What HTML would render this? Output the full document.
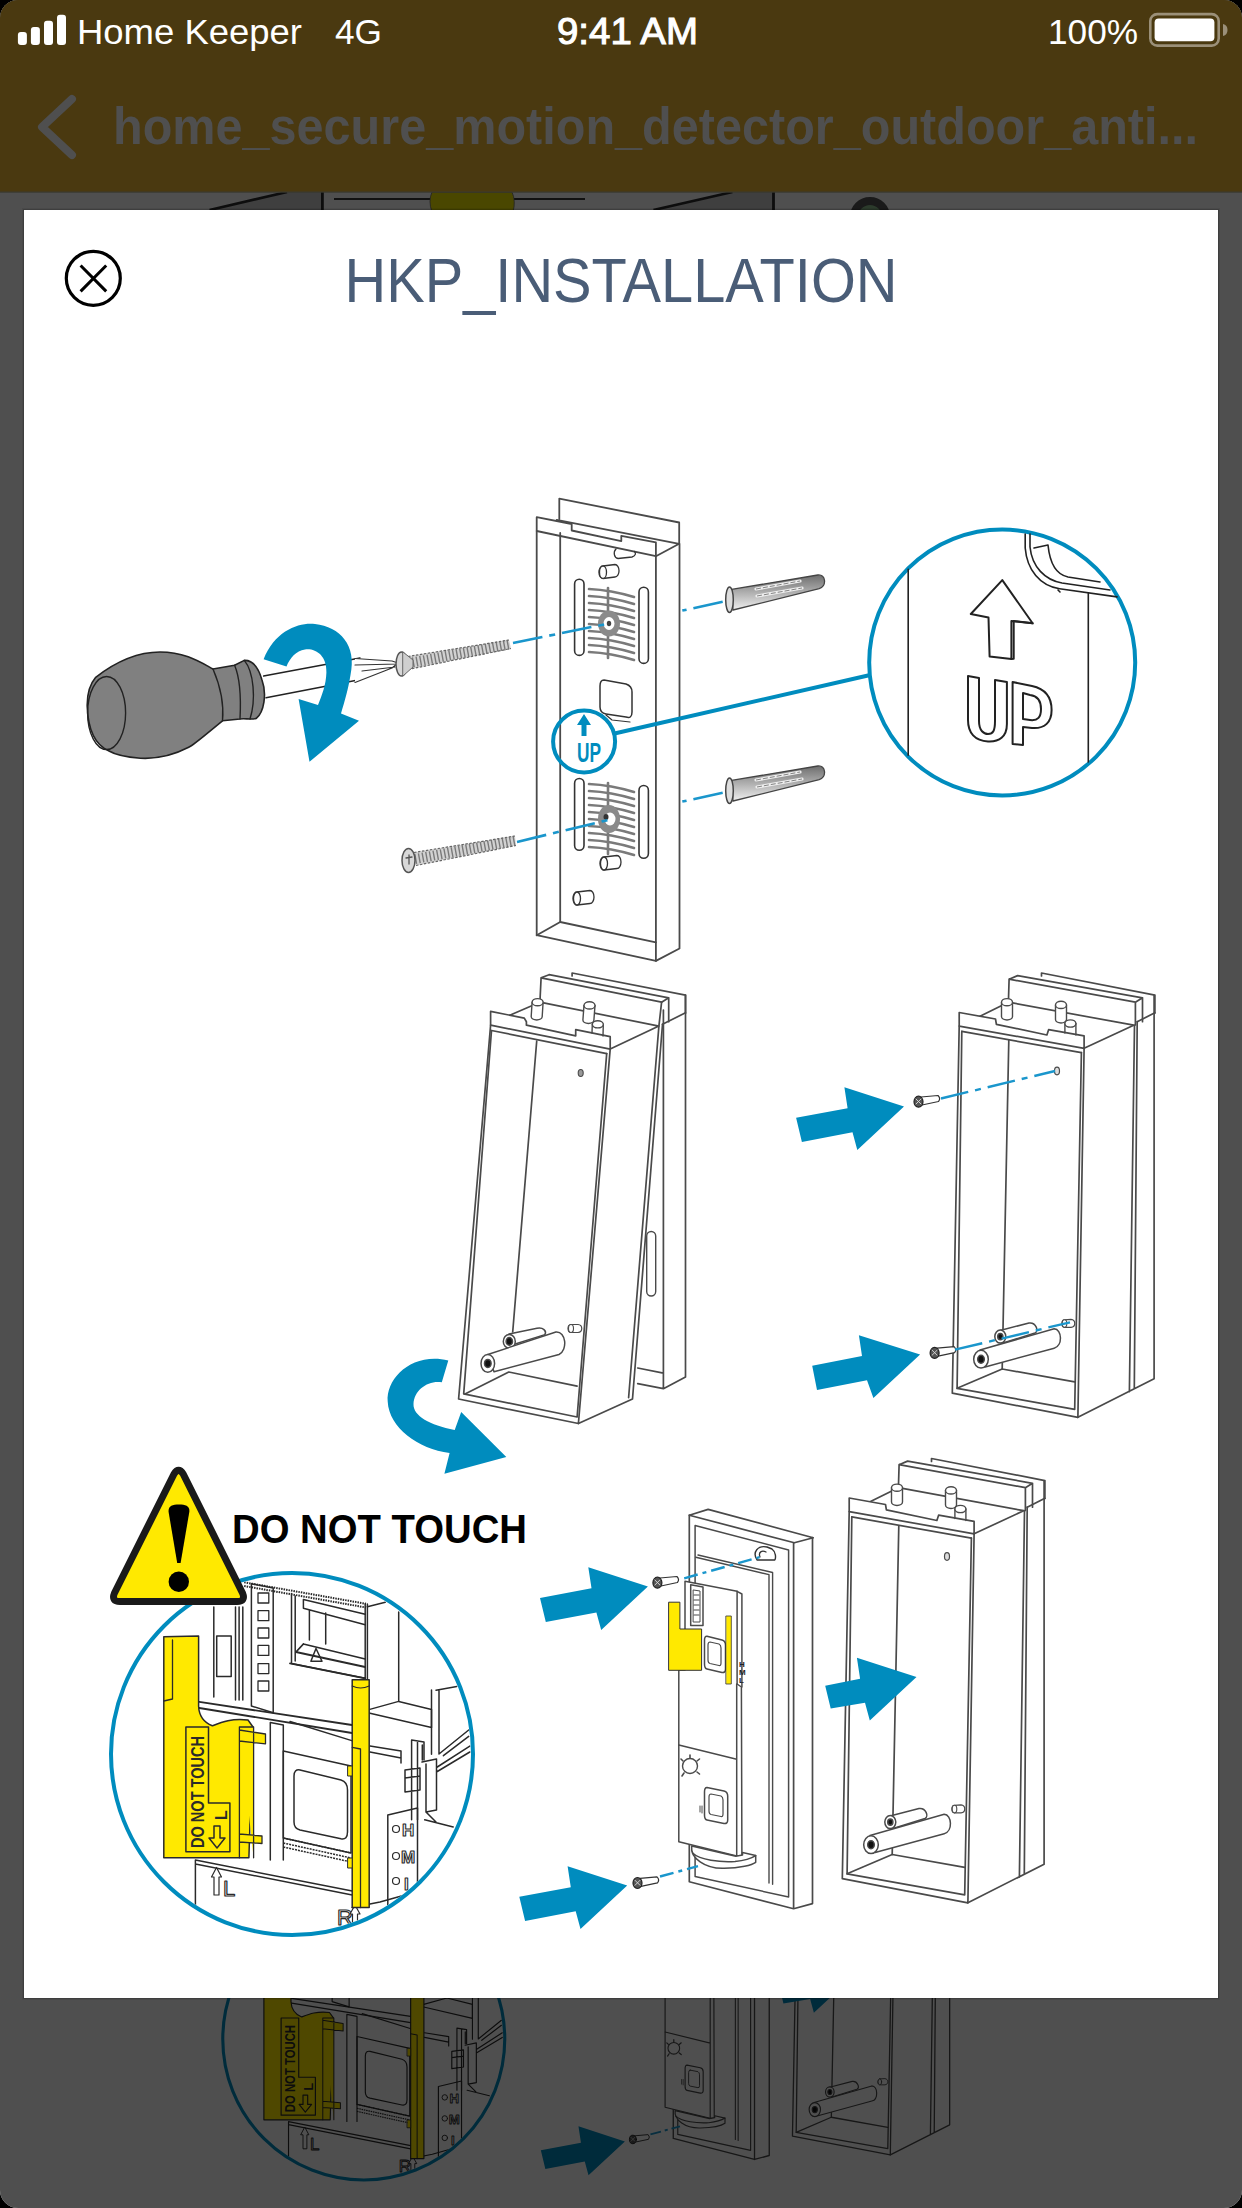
<!DOCTYPE html>
<html><head><meta charset="utf-8">
<style>
html,body{margin:0;padding:0;background:#000;width:1242px;height:2208px;overflow:hidden}
#screen{position:absolute;left:0;top:0;width:1242px;height:2208px;border-radius:18px;overflow:hidden;background:#4e4e4e}
svg{position:absolute;left:0;top:0;display:block}
text{font-family:"Liberation Sans",sans-serif}
</style></head><body>
<div id="screen">
<svg width="1242" height="2208" viewBox="0 0 1242 2208">
<defs>
<clipPath id="modalclip"><rect x="24" y="210" width="1194" height="1788"/></clipPath>
<linearGradient id="plug" x1="0" y1="0" x2="0" y2="1"><stop offset="0" stop-color="#6e6e6e"/><stop offset="1" stop-color="#f0f0f0"/></linearGradient>
<g id="diagram" fill="none" stroke="#222" stroke-width="1.6" stroke-linejoin="round" stroke-linecap="round">
<!-- p1_plate.svg -->
<!-- mount plate -->
<g stroke="#4a4a4a" stroke-width="1.8">
<path d="M559.3 519 L559.3 498.6 L679.2 522.5 L679.2 543.8"/>
<path d="M536.7 531 L536.7 517.2 L571.7 524 L571.7 530.5 L621.3 541.1 L621.3 535.8 L655.9 542.4 L655.9 556.2 L536.7 531"/>
<path d="M556.7 519.9 L679.2 543.8 L655.9 556.2"/>
<path d="M655.9 556.2 L655.9 960.9"/>
<path d="M536.7 531 L536.7 935.2 L655.9 960.9 L679.5 948.5 L679.5 543.8"/>
<path d="M560.2 533 L560.2 922 L655.9 942.3"/>
<path d="M536.7 935.2 L560.2 922"/>
</g>
<!-- pegs -->
<g stroke="#333" stroke-width="1.3" fill="#fff">
<path d="M616 549 C613 552 614 558 618 558.5 L632 557 C636 556 636 553 634.5 551.5" fill="none"/>
<path d="M603 566 L615 564.5 A4 6.2 0 0 1 615 577 L603 578.5 A4 6.2 0 0 1 603 566 Z"/><ellipse cx="603" cy="572.2" rx="3.5" ry="6.2"/>
<path d="M604 857 L617 855.5 A4 6.5 0 0 1 617 868.5 L604 870 A4 6.5 0 0 1 604 857 Z"/><ellipse cx="604" cy="863.5" rx="3.5" ry="6.5"/>
<path d="M577 892 L590 890.5 A4 6.5 0 0 1 590 903.5 L577 905 A4 6.5 0 0 1 577 892 Z"/><ellipse cx="577" cy="898.5" rx="3.5" ry="6.5"/>
</g>
<!-- slots -->
<g stroke="#333" stroke-width="1.6" fill="#fff">
<rect x="574.6" y="579.2" width="9.4" height="76.2" rx="4.7"/>
<rect x="639" y="587.2" width="9.4" height="76.2" rx="4.7"/>
<rect x="574.6" y="778.5" width="9.4" height="71.7" rx="4.7"/>
<rect x="639" y="785.5" width="9.4" height="72.7" rx="4.7"/>
</g>
<!-- grilles -->
<g stroke="#7a7a7a" stroke-width="2.6">
<path d="M589 589 Q611 590 634 597 M589 596 Q611 597 634 604 M589 603 Q611 604 634 611 M589 610 Q611 611 634 618 M589 617 Q611 618 634 625 M589 624 Q611 625 634 632 M589 631 Q611 632 634 639 M589 638 Q611 639 634 646 M589 645 Q611 646 634 653 M589 652 Q611 653 634 660"/>
<path d="M608 588 L608 658"/>
<path d="M589 784 Q611 785 634 792 M589 791 Q611 792 634 799 M589 798 Q611 799 634 806 M589 805 Q611 806 634 813 M589 812 Q611 813 634 820 M589 819 Q611 820 634 827 M589 826 Q611 827 634 834 M589 833 Q611 834 634 841 M589 840 Q611 841 634 848 M589 847 Q611 848 634 855"/>
<path d="M608 783 L608 854"/>
</g>
<g stroke="none">
<ellipse cx="609" cy="623.5" rx="11" ry="13" fill="#8a8a8a"/>
<ellipse cx="609" cy="623.5" rx="5.5" ry="6.5" fill="#fff"/>
<ellipse cx="609" cy="623.5" rx="2.2" ry="2.8" fill="#444"/>
<ellipse cx="609" cy="819" rx="11" ry="14" fill="#8a8a8a"/>
<ellipse cx="610" cy="819" rx="5.5" ry="6.5" fill="#fff"/>
<ellipse cx="606" cy="817" rx="2.5" ry="3" fill="#333"/>
</g>
<!-- square hole -->
<path d="M604 680 L626 684 Q632 686 632 692 L632 712 Q632 719 626 717 L606 714 Q600 713 600 707 L600 686 Q600 680 604 680 Z" stroke="#333" stroke-width="1.5" fill="#fff"/>
<path d="M606 715 L612 720 L630 722" stroke="#333" stroke-width="1.2"/>

<!-- p1_tools.svg -->
<!-- screwdriver -->
<path d="M263.6 676 L360 658 M266 697.8 L358 680" stroke="#222" stroke-width="1.4"/>
<path d="M355 658.5 L392 661 L398 663 L392 668 L355 682.5 M355 665 L398 664 M362 671 L395 667" stroke="#333" stroke-width="1.2" fill="#fff"/>
<path d="M95.7 677.3 C118 660 140 652 160 652 C185 652 200 662 213 669 L234.6 665.2 L244.3 660.4 C252 660 258 666 262 680 C267 694 264 712 256.3 718.4 C250 720 245 718 240 719 L222.5 720.8 C205 735 195 744 188.7 747.3 C170 757 155 759 140.4 758.2 C125 757 114 754 109 751 C95 745 88 730 87.2 706.3 C87 695 90 684 95.7 677.3 Z" fill="#808080" stroke="#222" stroke-width="1.6"/>
<ellipse cx="106.6" cy="713" rx="19" ry="36.5" fill="none" stroke="#222" stroke-width="1.4"/>
<path d="M213 669 C222 690 224 705 222.5 720.8 M244.3 660.4 C254 672 256 700 250 719 M234.6 665.2 C240 678 241 700 240 719" stroke="#222" stroke-width="1.4"/>
<!-- blue curved arrow -->
<path d="M263.6 659.2 C275 630 300 622 315 624 C340 627 357 645 350.5 675 C348 690 345 700 341 713.5 L359 720.8 L309.5 761.8 L298.6 699 L318 705 C322 695 326 685 326.4 672.5 C327 655 315 648 305 649.5 C296 651 290 658 286.5 666.4 Z" fill="#008cbe" stroke="none"/>
<!-- screws -->
<g stroke="none">
<path d="M407 656.5 L509 640 L511 648.5 L408 669.5 Z" fill="#d2d2d2"/>
<path d="M409 663 L510 644.3" stroke="#7a7a7a" stroke-width="10" stroke-dasharray="1.4 2.3" stroke-linecap="butt" fill="none"/>
<path d="M408 656.5 L509 640 M408 669.5 L511 648.5" stroke="#666" stroke-width="1.2" stroke-dasharray="2.5 1.5" stroke-linecap="butt" fill="none"/>
<ellipse cx="401.5" cy="664" rx="5.5" ry="12" fill="#d8d8d8" stroke="#555" stroke-width="1.5"/>
<path d="M403 652 L413 660 L413 667 L403 676 Z" fill="#cfcfcf" stroke="#666" stroke-width="1"/>
<path d="M414 852.5 L515 836 L516 845.5 L416 865.5 Z" fill="#d2d2d2"/>
<path d="M415 859 L515.5 840.5" stroke="#7a7a7a" stroke-width="10" stroke-dasharray="1.4 2.3" stroke-linecap="butt" fill="none"/>
<path d="M414 852.5 L515 836 M416 865.5 L516 845.5" stroke="#666" stroke-width="1.2" stroke-dasharray="2.5 1.5" stroke-linecap="butt" fill="none"/>
<ellipse cx="408.5" cy="860.4" rx="6.5" ry="12" fill="#d8d8d8" stroke="#555" stroke-width="1.5"/>
<path d="M406 858 L412 857 M409 855 L409 864" stroke="#555" stroke-width="1.3"/>
</g>
<!-- anchors -->
<g id="anchor">
<path d="M731.6 589.4 L817.8 575 C826 574 827 586 819.2 588.7 L733 610 Z" fill="url(#plug)" stroke="#444" stroke-width="1.3"/>
<ellipse cx="729.5" cy="599.7" rx="3.8" ry="12.8" fill="#ddd" stroke="#444" stroke-width="1.5"/>
<path d="M756 589 L800 581 M757 596 L802 588" stroke="#eee" stroke-width="3.2" stroke-linecap="round"/>
<path d="M756 589 L800 581 M757 596 L802 588" stroke="#666" stroke-width="0.8" stroke-dasharray="5 2" stroke-linecap="butt"/>
</g>
<use href="#anchor" transform="translate(0,191)"/>
<!-- blue dash-dot lines -->
<g stroke="#1a96cc" stroke-width="2.6" stroke-dasharray="30 7 6 7" stroke-linecap="butt">
<path d="M513 643 L609 623.5"/>
<path d="M517 841.9 L608 820"/>
<path d="M722.7 601.7 L682.3 610.6"/>
<path d="M722.7 792.7 L682.3 801.6"/>
</g>
<!-- small up circle -->
<circle cx="584.1" cy="741.5" r="31" fill="none" stroke="#008cbe" stroke-width="4"/>
<path d="M614.5 733.5 L868 675.5" stroke="#008cbe" stroke-width="4"/>
<path d="M584 714 L591 725 L586.5 725 L586.5 736 L581.5 736 L581.5 725 L577 725 Z" fill="#008cbe" stroke="none"/>
<text x="577" y="762" font-size="27" font-weight="bold" fill="#008cbe" stroke="none" textLength="24" lengthAdjust="spacingAndGlyphs">UP</text>
<!-- big up circle -->
<circle cx="1002.2" cy="662.5" r="133" fill="#fff" stroke="#008cbe" stroke-width="4"/>
<g stroke="#222" stroke-width="1.6">
<path d="M908.2 569.3 L908.2 755.2 M1088.3 593.4 L1088.3 762"/>
<path d="M1025.2 534 L1025.2 548 C1027 570 1040 586 1059.6 588.8 L1117 596.9 M1030 534 L1030 547 C1032 567 1045 580 1062 583 L1110 590 M1034 548 L1048 545 C1050 565 1058 575 1068 577 L1100 582 M1058 590 L1060 592"/>
<path d="M1002.3 580.1 L970.8 614 L988.5 617.5 L989.6 656.5 L1011.4 659 L1011.4 621 L1032.6 623.3 Z" fill="#fff" stroke-width="2"/>
<path d="M1011.4 659 L1013.7 658.8 L1013.7 621 L1032.6 623.3" stroke-width="2"/>
</g>
<g stroke="#222" stroke-width="2" fill="#fff">
<path d="M968 676 L979 678 L979 721 C979 731 984 734 988 734 C993 734 995 731 995 721 L995 680 L1006.9 682 L1006.9 724 C1006.9 737 999 742 988 741.4 C975 741 968 733 968 720 Z"/>
<path d="M1012.6 682 L1032 686 C1046 689 1051.6 697 1051.6 710 C1051.6 722 1045 729 1032 728 L1023 727 L1023 745 L1012.6 744 Z M1023 693 L1023 719 L1030 720 C1038 721 1041 717 1041 709 C1041 701 1038 696 1030 695 Z"/>
</g>

<!-- p2_housings.svg -->
<!-- housing top (shared) -->
<g id="htop" stroke="#4a4a4a" stroke-width="1.7">
<path d="M572.1 976 L572.1 973 L685.5 995.1 L685.5 1013"/>
<path d="M549.1 974.7 L668.7 997.8 L668.7 1021.7 M541.1 977.8 L549.1 974.7 M541.1 977.8 L661.6 1002.2 L668.7 997.8 M541.1 977.8 L539.9 1002.2"/>
<path d="M509.2 1015.5 L539.9 1002.2 L658.9 1026.1 L610.2 1049.1 M685.5 1012.8 L662.5 1024.3"/>
<path d="M490.6 1025.2 L490.6 1011.4 L524.3 1018.1 L526.4 1021.7 L526.4 1025.2 L575.7 1035.9 L575.7 1029.7 L610.2 1036.7 L610.2 1049.1 Z" fill="#fff"/>
<path d="M491.5 1030.5 L606.7 1053.6"/>
<g fill="#fff" stroke-width="1.4">
<path d="M532.1 1002.2 L531.2 1016.5 A5.5 3.5 0 0 0 542.2 1016.5 L543.1 1002.2"/><ellipse cx="537.6" cy="1002.2" rx="5.5" ry="3.6"/>
<path d="M584 1005.4 L582.9 1020 A5.5 3.5 0 0 0 593.9 1020 L595 1005.4"/><ellipse cx="589.5" cy="1005.4" rx="5.5" ry="3.6"/>
<path d="M592.3 1024.3 L592 1033 M603.3 1024.3 L603 1036"/><ellipse cx="597.8" cy="1024.3" rx="5.5" ry="3.6"/>
</g>
</g>
<!-- middle-left tilted housing body -->
<g stroke="#4a4a4a" stroke-width="1.7">
<path d="M490.6 1025.2 L458.6 1399 L578.4 1423.5 L610.2 1049.1"/>
<path d="M491.5 1030.5 L463.7 1393.9 L577.1 1417 L606.7 1053.6"/>
<path d="M465 1394 L508.8 1372 L577.1 1386.1"/>
<path d="M578.4 1423.5 L632.5 1399 L662.5 1024.3 M628.6 1397.7 L658.9 1026.1 M661.6 1002.2 L658.9 1026.1"/>
<path d="M685.5 995.1 L685.5 1377 L663.4 1388.7 L637.7 1383.6 M663.4 1010 L663.4 1388.7 M637.7 1368 L663.4 1373.2"/>
<path d="M536.7 1041.2 L512.7 1332"/>
<rect x="646.7" y="1231.5" width="9" height="64.5" rx="4.5" stroke-width="1.4"/>
</g>
<g stroke="#4a4a4a" stroke-width="1.5" fill="#fff">
<path d="M509 1334 L537 1328.3 C543 1327 547 1331 544.9 1334.6 L512 1345 Z"/><ellipse cx="509.3" cy="1341.4" rx="6" ry="7"/><ellipse cx="509.3" cy="1341.4" rx="3.2" ry="3.8" fill="#111"/>
<path d="M487.8 1354.5 L555.9 1332 C566 1331 568 1350 559 1354.5 L494 1371.8 Z"/><ellipse cx="487.8" cy="1363.4" rx="6.8" ry="8.9"/><ellipse cx="487.8" cy="1363.4" rx="3.3" ry="4" fill="#111"/>
<path d="M571 1324.5 L578 1324.5 C583 1325 583 1332 578 1332.5 L571 1332.5 C567 1332 567 1325 571 1324.5 Z" stroke-width="1.2"/><ellipse cx="571" cy="1328.5" rx="2.5" ry="4" stroke-width="1.1"/>
<ellipse cx="580.7" cy="1073" rx="2.5" ry="3.5" fill="#999" stroke-width="1.1"/>
</g>
<!-- blue curved arrow (left) -->
<path d="M448.3 1360.4 C412 1352 386 1378 387.7 1401.6 C389 1428 418 1449 449.6 1453 L444.4 1473.7 L506.3 1457 L461.2 1412 L454.7 1430 C430 1425 413 1416 413.5 1404 C414 1390 428 1380 441.8 1382.3 Z" fill="#008cbe" stroke="none"/>
<!-- right housing -->
<g id="hbox">

<g id="htop2" stroke="#4a4a4a" stroke-width="1.7">
<path d="M1041.5 976 L1041.5 973 L1154.9 995.1 L1154.9 1013"/>
<path d="M1017.6 975.6 L1142.5 997.8 L1142.5 1021.7 M1009.1 979.2 L1017.6 975.6 M1009.1 979.2 L1135.4 1002.2 L1142.5 997.8 M1009.1 979.2 L1008.4 1002.2 M1135.4 1002.2 L1135.4 1025"/>
<path d="M979.5 1016.4 L1008.4 1002.2 L1133.7 1025.2 L1084.1 1048.3 M1154.9 1012.8 L1137.2 1021.7"/>
<path d="M959.2 1026.1 L959.2 1012.5 L995.5 1019 L996.4 1024.3 L1046.9 1035 L1048.6 1029.7 L1084.1 1035.9 L1084.1 1048.3 Z" fill="#fff"/>
<path d="M961.8 1031.4 L1081.4 1052.7"/>
<g fill="#fff" stroke-width="1.4">
<path d="M1001.5 1002.2 L1001.5 1016.5 A5.5 3.5 0 0 0 1012.5 1016.5 L1012.5 1002.2"/><ellipse cx="1007" cy="1002.2" rx="5.5" ry="3.6"/>
<path d="M1055.5 1004.9 L1055.5 1019.5 A5.5 3.5 0 0 0 1066.5 1019.5 L1066.5 1004.9"/><ellipse cx="1061" cy="1004.9" rx="5.5" ry="3.6"/>
<path d="M1064.9 1023.5 L1064.9 1033 M1075.9 1023.5 L1075.9 1035"/><ellipse cx="1070.4" cy="1023.5" rx="5.5" ry="3.6"/>
</g>
</g>

<g stroke="#4a4a4a" stroke-width="1.7">
<path d="M959.2 1026 L952.3 1393.2 L1077.9 1417.3 L1084.1 1048.3"/>
<path d="M961.8 1031.4 L957.1 1388.3 L1074.7 1409.3 L1081.4 1052.7"/>
<path d="M957.1 1388.3 L1002.2 1369 L1074.7 1381.9"/>
<path d="M1077.9 1417.3 L1154.1 1378.7 L1154.1 995.5 M1129.4 1391.6 L1134.5 1025 M1134.3 1388.3 L1137.2 1021.7"/>
<path d="M1008.8 1040.3 L1002.2 1369"/>
</g>
<g stroke="#4a4a4a" stroke-width="1.5" fill="#fff">
<path d="M1000 1330.5 L1029 1323 C1036 1322 1039 1331 1035 1333 L1003 1343 Z"/><ellipse cx="1000.3" cy="1336.6" rx="5.5" ry="6.5"/><ellipse cx="1000.3" cy="1336.6" rx="2.6" ry="3.2" fill="#111"/>
<path d="M980 1350 L1054.2 1328.8 C1062 1329 1063 1346 1054.2 1348.2 L985.1 1367 Z"/><ellipse cx="981" cy="1359.2" rx="7.3" ry="8.9"/><ellipse cx="981" cy="1359.2" rx="3.3" ry="4" fill="#111"/>
<path d="M1064.5 1319.8 L1071 1319.4 C1076 1320 1076 1327 1071 1327.4 L1064.5 1327.4 C1061 1327 1061 1320 1064.5 1319.8 Z" stroke-width="1.2"/><ellipse cx="1064.5" cy="1323.6" rx="2.3" ry="3.8" stroke-width="1.1"/>
<ellipse cx="1057" cy="1071" rx="2.5" ry="3.8" fill="#ddd" stroke-width="1.2"/>
</g>
</g>
<!-- small screws -->
<g id="sscrew">
<path d="M921 1097 L938 1095.5 Q941 1098.5 938.5 1101.5 L922 1105 Z" fill="#fff" stroke="#333" stroke-width="1.2"/>
<ellipse cx="918.5" cy="1101.7" rx="4.5" ry="5.5" fill="#555" stroke="#222" stroke-width="1.2"/>
<path d="M916 1099 L921 1104 M921 1099 L916 1104" stroke="#ddd" stroke-width="0.9"/>
</g>
<use href="#sscrew" transform="translate(16.1,251.2)"/>
<g stroke="#1a96cc" stroke-width="2.4" stroke-dasharray="28 7 6 7" stroke-linecap="butt">
<path d="M941 1098.5 L1055 1071"/>
<path d="M955 1349.7 L1070 1322.3"/>
</g>
<!-- straight arrows -->
<g fill="#008cbe" stroke="none">
<path d="M796.1 1117.8 L847.6 1108.2 L844.4 1087.2 L904 1106.5 L857.3 1150 L852.5 1132.3 L801.9 1142 Z"/>
<path d="M812.2 1365.8 L862 1356 L858.9 1335.2 L920.1 1354.5 L873.4 1398 L867 1380.3 L817 1390 Z"/>
</g>

<!-- p3_device.svg -->
<!-- housing 3 -->
<use href="#hbox" transform="translate(-110,485.5)"/>
<!-- arrows section 3 -->
<g fill="#008cbe" stroke="none">
<path d="M825.2 1685.7 L860.1 1678.7 L856.9 1657.7 L916.5 1677 L869.8 1720.5 L865 1702.8 L830.7 1708.5 Z"/>
<path d="M540 1597.9 L591.5 1588.3 L588.3 1567.3 L647.9 1586.6 L601.2 1630.1 L596.4 1612.4 L545.8 1622.1 Z"/>
<path d="M519.3 1896.8 L570.8 1887.2 L567.6 1866.2 L627.2 1885.5 L580.5 1929 L575.7 1911.3 L525.1 1921 Z"/>
</g>
<!-- device -->
<g stroke="#4a4a4a" stroke-width="1.7">
<path d="M689.3 1515.2 L708.1 1509.4 L813.2 1537.7 L794.3 1542.8 Z"/>
<path d="M689.3 1515.2 L689.3 1881.7 L793.6 1908.7 L812.5 1903.6 L812.5 1537.7 M793.6 1542.8 L793.6 1908.7"/>
<path d="M695.1 1525.4 L788.6 1550 L788.6 1897 L695.1 1876.5 Z" stroke-width="1.5"/>
<path d="M698 1555 L772.6 1572.5 L772.6 1884.2 M695.8 1557.2 L769 1574.6 L769 1883" stroke-width="1.4"/>
</g>
<!-- pcb -->
<g stroke="#4a4a4a" stroke-width="1.5" fill="#fff">
<path d="M685 1581.2 L737.1 1591.3 L737.1 1684 L741.4 1687 L741.9 1855.9 L736.7 1855.9 L678.8 1841.7 L678.8 1670 L685 1670 Z"/>
<path d="M737.1 1591.3 L741.9 1594 L741.9 1687" fill="none"/>
<path d="M678.8 1745.1 L736.7 1759.3 M736.7 1684 L736.7 1855.9" fill="none"/>
<path d="M690.7 1584.8 L703 1587 L703 1625.4 L690.7 1625.4 Z"/>
<path d="M693.5 1590 L700 1591 L700 1622 L693.5 1622 Z" stroke-width="1"/>
<path d="M694 1595 L699 1595 M694 1600 L699 1600 M694 1605 L699 1605 M694 1610 L699 1610 M694 1615 L699 1615" stroke-width="1.2"/>
<path d="M707 1636.2 L722 1640 Q725.5 1641 725.5 1645 L725.5 1669 Q725.5 1673 722 1672.5 L707 1669 Q704.5 1668.5 704.5 1664 L704.5 1640 Q704.5 1636 707 1636.2 Z"/>
<path d="M710 1642 L719 1644 Q721 1645 721 1648 L721 1663 Q721 1666 719 1665.5 L710 1663.5 Q708 1663 708 1660 L708 1645 Q708 1642 710 1642 Z" stroke-width="1.2"/>
<path d="M707 1787.6 L724 1791 Q727.7 1792 727.7 1796 L727.7 1820 Q727.7 1824 724 1823.5 L707 1820 Q704.5 1819.5 704.5 1815 L704.5 1792 Q704.5 1787.5 707 1787.6 Z"/>
<path d="M711 1794 L721 1796 Q723 1797 723 1800 L723 1814 Q723 1817 721 1816.5 L711 1814.5 Q709 1814 709 1811 L709 1797 Q709 1794 711 1794 Z" stroke-width="1.2"/>
<circle cx="690" cy="1766" r="7.5" stroke-width="1.4"/>
<path d="M690 1755 L690 1758 M699.5 1759 L697 1761 M699.5 1774 L697 1772 M682 1776 L684 1773 M681 1759 L683 1761" stroke-width="1.6"/>
<path d="M700 1806 L700 1812 M702 1806 L702 1813" stroke-width="1"/>
<path d="M691.7 1846 C690 1858 705 1869 724.3 1868.3 C740 1868 752 1865 755.7 1862.3 L755.7 1855.6 L742.5 1852.5 L742.5 1855 L735.8 1856.2 Z"/><path d="M692.5 1853 C700 1860 720 1862.5 735 1861.5 C745 1860.5 752 1858 755.7 1855.6" fill="none"/>
</g>
<path d="M669 1602.2 L679.9 1602.2 L679.9 1629 L701.6 1629 L701.6 1670.3 L669 1670.3 Z" fill="#ffe900" stroke="#333" stroke-width="1"/>
<rect x="726.2" y="1616" width="5.1" height="68" fill="#ffe900" stroke="#333" stroke-width="0.8"/>
<text x="739" y="1667" font-size="8" font-weight="bold" fill="#222" stroke="none">H</text>
<text x="739" y="1675" font-size="8" font-weight="bold" fill="#222" stroke="none">M</text>
<text x="739" y="1683" font-size="8" font-weight="bold" fill="#222" stroke="none">L</text>
<!-- device bracket -->
<path d="M757 1560 C752 1552 758 1545 767 1547 L772 1549 C776 1552 776 1558 774.8 1560 Z" fill="#fff" stroke="#333" stroke-width="1.4"/>
<path d="M760 1557 C758 1552 762 1550 766 1552" stroke="#333" stroke-width="1.3"/>
<!-- device screws -->
<use href="#sscrew" transform="translate(-261.1,481)"/>
<use href="#sscrew" transform="translate(-281,781.3)"/>
<g stroke="#1a96cc" stroke-width="2.4" stroke-dasharray="14 5 4 5" stroke-linecap="butt">
<path d="M684.2 1578.3 L759.6 1557.2"/>
<path d="M660 1876.5 L698 1866.2"/>
</g>

<!-- p4_warning.svg -->
<!-- DO NOT TOUCH circle -->
<defs><clipPath id="dntclip"><circle cx="292" cy="1754" r="179"/></clipPath></defs>
<circle cx="292" cy="1754" r="181" fill="#fff" stroke="none"/>
<g clip-path="url(#dntclip)">
<g stroke="#2a2a2a" stroke-width="1.5">
<!-- upper structure -->
<path d="M213.8 1607 L213.8 1697 M235.5 1607 L235.5 1700 M239.1 1607 L239.1 1700 M242.8 1607 L242.8 1700"/>
<rect x="216.7" y="1636" width="14.5" height="40.5"/>
<path d="M251.4 1583.8 L273.2 1588 L273.2 1712.8 L251.4 1706 Z"/>
<g fill="#fff" stroke-width="1.3">
<rect x="258" y="1593" width="10.8" height="10"/><rect x="258" y="1610.7" width="10.8" height="10"/><rect x="258" y="1628" width="10.8" height="10"/>
<rect x="258" y="1645.4" width="10.8" height="10"/><rect x="258" y="1663.6" width="10.8" height="10"/><rect x="258" y="1681" width="10.8" height="10"/>
</g>
<path d="M244.2 1582.3 L366 1603.8 M244.2 1586 L366 1607.5" stroke-width="2" stroke-dasharray="1.5 1" stroke-linecap="butt"/>
<path d="M291.5 1593.4 L291.5 1663.4 L365.2 1678.3 L365.2 1603.8 M295.2 1596 L295.2 1661 M367.4 1604 L367.4 1680"/>
<path d="M303.4 1599.4 L365.2 1614.3 M303.4 1608.3 L365.2 1624.7 M303.4 1599.4 L303.4 1608.3 M309.4 1610 L309.4 1640 M325.7 1613 L325.7 1644" />
<path d="M303.4 1644 L365.2 1659 M296 1652 L365.2 1667 M303.4 1644 L296 1652 M290 1663.4 L365.2 1678.3" stroke-width="1.8"/>
<path d="M316 1648.5 L310.9 1661.2 L322 1661.2 Z"/>
<path d="M367.4 1606.8 L385.3 1602.3 M398.7 1612 L398.7 1701"/>
<path d="M199.3 1701.9 L352 1725 M199.3 1708 L352 1733" stroke-width="1.8"/>
<path d="M368.9 1709.6 L398.7 1701.4 L431.5 1709.6 M368.9 1713 L431.5 1727.5 M431.5 1709.6 L431.5 1727.5"/>

<path d="M290 1721.5 L352.6 1740.9"/>
<!-- lower structure -->
<path d="M270.3 1722.4 L270.3 1860 M283.3 1725 L283.3 1860 M270.3 1722.4 L283.3 1725"/>
<path d="M283.3 1750.9 L351 1766 L351 1853 L283.3 1838 Z"/>
<path d="M300 1769.9 L341 1780 Q347.5 1782 347.5 1790 L347.5 1832 Q347.5 1840 341 1838.8 L300 1830 Q294 1828.5 294 1822 L294 1776 Q294 1769 300 1769.9 Z"/>
<path d="M283.3 1838 L351 1853 M283.3 1843 L351 1858 M283.3 1847 L351 1862" stroke-dasharray="2 1" stroke-linecap="butt"/>

<path d="M387.8 1815 L417.5 1808 L417.5 1900.5 M387.8 1815 L387.8 1905"/>
<path d="M411.6 1740 L411.6 1819.8 M417.5 1742 L417.5 1819.8 M422.3 1745 L422.3 1760 M411.6 1740 L424 1742 L424 1760 M405 1770 L420 1768 L420 1790 L405 1792 Z M405 1778 L420 1776" />
<path d="M422 1762 L436.5 1759 L436.5 1810 L426 1812 L426 1764 M436.5 1767.5 L469.8 1746.1 M436.5 1772 L469.8 1752 M424.7 1819.8 L453.2 1826.9 M426 1812 L436 1822" />
<path d="M431.5 1690 L431.5 1754.3 M439 1690 L439 1754 M436 1690.2 L456.8 1686.5 M439 1754 L468.7 1730 M443.4 1755.7 L468.7 1736.4"/>
<path d="M370 1746 L401 1751 L401 1763 M370 1752 L401 1758"/>
<path d="M195.4 1860.1 L195.4 1935 M195.4 1860.1 L352.2 1891 M195.4 1864 L352.2 1895"/>
<path d="M352.2 1907.6 L380 1902 L405 1895"/>
</g>
<g fill="#2a2a2a" stroke="none">
<circle cx="396" cy="1829" r="3.5" fill="none" stroke="#2a2a2a" stroke-width="1.2"/>
<circle cx="396" cy="1856" r="3.5" fill="none" stroke="#2a2a2a" stroke-width="1.2"/>
<circle cx="396" cy="1881" r="3.5" fill="none" stroke="#2a2a2a" stroke-width="1.2"/>
<text x="402" y="1836" font-size="17" font-weight="bold" fill="#fff" stroke="#2a2a2a" stroke-width="1.1">H</text>
<text x="401" y="1863" font-size="17" font-weight="bold" fill="#fff" stroke="#2a2a2a" stroke-width="1.1">M</text>
<text x="404" y="1890" font-size="17" font-weight="bold" fill="#fff" stroke="#2a2a2a" stroke-width="1.1">I</text>
<text x="223" y="1896" font-size="22" fill="#fff" stroke="#2a2a2a" stroke-width="1.2">L</text>
<path d="M216.5 1867.5 L221.5 1877 L219 1877 L219 1895 L214 1895 L214 1877 L211.5 1877 Z" fill="#fff" stroke="#2a2a2a" stroke-width="1.2"/>
<text x="337" y="1925" font-size="22" fill="#fff" stroke="#2a2a2a" stroke-width="1.2">R</text>
<path d="M355 1905 L360 1914 L357.5 1914 L357.5 1930 L352.5 1930 L352.5 1914 L350 1914 Z" fill="#fff" stroke="#2a2a2a" stroke-width="1.2"/>
</g>
<!-- yellow pieces -->
<path d="M163.8 1636.7 L198.6 1636 L198.6 1706.2 C199 1715 203 1722 212.3 1725.8 C222 1722 232 1718 248 1720 L253 1727 L248.9 1857.8 L163.8 1857.8 Z" fill="#ffe900" stroke="#2a2a2a" stroke-width="1.5"/>
<path d="M172.5 1640 L172.5 1699 L163.8 1701" stroke="#2a2a2a" stroke-width="1.3" fill="none"/>
<path d="M239.4 1727 L253.6 1727 L253.6 1857.8 M239.4 1727 L239.4 1857.8 M239.4 1730 L265.5 1734 L265.5 1743.8 L239.4 1741 M239.4 1834 L262 1836 L262 1843.5 L239.4 1842" fill="#ffe900" stroke="#2a2a2a" stroke-width="1.3"/>
<path d="M185.9 1727.1 L208.5 1727.1 L208.5 1803.1 L229.9 1803.1 L229.9 1851.8 L185.9 1851.8 Z" fill="none" stroke="#2a2a2a" stroke-width="1.5"/>
<text transform="translate(204 1848) rotate(-90)" font-size="19" font-weight="bold" fill="#2a2a2a" stroke="none" textLength="112" lengthAdjust="spacingAndGlyphs">DO NOT TOUCH</text>
<text transform="translate(227 1820) rotate(-90)" font-size="16" font-weight="bold" fill="#2a2a2a" stroke="none">L</text>
<path d="M214 1826 L220 1826 L220 1838 L225 1838 L217 1848 L209 1838 L214 1838 Z" fill="none" stroke="#2a2a2a" stroke-width="1.5"/>
<rect x="352.2" y="1679.8" width="17" height="227.8" fill="#ffe900" stroke="#2a2a2a" stroke-width="1.5"/>
<path d="M352.2 1686 Q360.5 1690 369.2 1686" stroke="#2a2a2a" stroke-width="1.2" fill="none"/>
<path d="M352.2 1747.3 L360.5 1749 L360.5 1907.6" stroke="#2a2a2a" stroke-width="1.3" fill="none"/>
<rect x="348" y="1766" width="4.2" height="10" fill="#ffe900" stroke="#2a2a2a" stroke-width="1"/>
<rect x="348" y="1858" width="4.2" height="10" fill="#ffe900" stroke="#2a2a2a" stroke-width="1"/>
</g>
<circle cx="292" cy="1754" r="181" fill="none" stroke="#008cbe" stroke-width="4"/>
<!-- warning triangle -->
<path d="M174 1474 Q178.6 1466.5 183.2 1474 L242.5 1593 Q246 1601.5 237 1601.5 L120 1601.5 Q111 1601.5 114.5 1593 Z" fill="#ffe900" stroke="#1a1a1a" stroke-width="7" stroke-linejoin="round"/>
<path d="M168.6 1512 C168 1506 172 1504.4 179 1504.4 C186 1504.4 190 1506 189.3 1512 L180.6 1563 L177.2 1563 Z" fill="#000" stroke="none"/>
<circle cx="178.8" cy="1581.7" r="10.2" fill="#000" stroke="none"/>
<text x="232" y="1543.2" font-size="40.5" font-weight="bold" fill="#000" stroke="none" textLength="295" lengthAdjust="spacingAndGlyphs">DO NOT TOUCH</text>


</g>
</defs>
<!-- background page -->
<rect x="0" y="0" width="1242" height="2208" fill="#fff"/>
<use href="#diagram" transform="translate(136.3,672.6) scale(0.779)"/>
<rect x="0" y="0" width="1242" height="2208" fill="#000" opacity="0.69"/>
<g id="bgtop">
<path d="M209.6 210 L287 192 L322.4 192 L322.4 210 Z" fill="#3f3f3f"/>
<path d="M653.5 210 L732.4 192 L773.5 192 L773.5 210 Z" fill="#3f3f3f"/>
<path d="M209.6 210 L287 192 M653.5 210 L732.4 192" stroke="#0d0d0d" stroke-width="2.6" fill="none"/>
<path d="M322.4 192 L322.4 210 M773.5 192 L773.5 210" stroke="#0d0d0d" stroke-width="2.8" fill="none"/>
<path d="M334 199 L430 199 M514 199 L585 199" stroke="#111" stroke-width="2" fill="none"/>
<path d="M432 192 L512 192 Q516 201 513 212 L432 212 Q428 201 432 192 Z" fill="#4a4700" stroke="#222" stroke-width="0.8"/>
<circle cx="870" cy="217" r="16" fill="#2c3b2c" stroke="#1a1a1a" stroke-width="8"/>
</g>
<!-- nav + status -->
<rect x="0" y="0" width="1242" height="192" fill="#4a3910"/>
<rect x="0" y="191.5" width="1242" height="1.2" fill="#3a3a30"/>
<!-- status bar -->
<g fill="#fff">
<rect x="17.9" y="31.9" width="9" height="13.2" rx="3"/>
<rect x="30.9" y="26.9" width="9" height="18.2" rx="3"/>
<rect x="44" y="20.8" width="9" height="24.3" rx="3"/>
<rect x="57" y="14.8" width="9" height="30.3" rx="3"/>
</g>
<text x="77" y="43.5" font-size="35.5" fill="#fff" textLength="225" lengthAdjust="spacingAndGlyphs">Home Keeper</text>
<text x="335" y="43.5" font-size="35.5" fill="#fff" textLength="47" lengthAdjust="spacingAndGlyphs">4G</text>
<text x="557" y="43.8" font-size="36" fill="#fff" stroke="#fff" stroke-width="1" textLength="141" lengthAdjust="spacingAndGlyphs">9:41 AM</text>
<text x="1048" y="44" font-size="35.5" fill="#fff" textLength="90" lengthAdjust="spacingAndGlyphs">100%</text>
<rect x="1150.3" y="14.1" width="68.4" height="31.5" rx="7" fill="none" stroke="#9b9079" stroke-width="2.6"/>
<rect x="1154.6" y="18.4" width="59.8" height="22.9" rx="4" fill="#fff"/>
<path d="M1223 24 Q1227.5 25 1227.5 30 Q1227.5 35 1223 36 Z" fill="#9b9079"/>
<!-- nav -->
<path d="M72 99 L42 127 L72 155" fill="none" stroke="#4f4f4f" stroke-width="8" stroke-linecap="round" stroke-linejoin="round"/>
<text x="113" y="144" font-size="52" font-weight="bold" fill="#4f4f4f" textLength="1085" lengthAdjust="spacingAndGlyphs">home_secure_motion_detector_outdoor_anti...</text>
<!-- modal -->
<rect x="22" y="208" width="1198" height="1792" fill="#000" opacity="0.07"/>
<rect x="23" y="209" width="1196" height="1790" fill="#000" opacity="0.14"/>
<rect x="24" y="210" width="1194" height="1788" fill="#fff"/>
<g clip-path="url(#modalclip)"><use href="#diagram"/></g>
<!-- close button -->
<circle cx="93.3" cy="278.3" r="27" fill="none" stroke="#000" stroke-width="3.2"/>
<path d="M80.6 265.5 L106.2 291.4 M106.2 265.5 L80.6 291.4" stroke="#000" stroke-width="3" fill="none"/>
<text x="344.5" y="301.6" font-size="62.5" fill="#4a5d77" textLength="553" lengthAdjust="spacingAndGlyphs">HKP_INSTALLATION</text>
</svg>
</div>
</body></html>
